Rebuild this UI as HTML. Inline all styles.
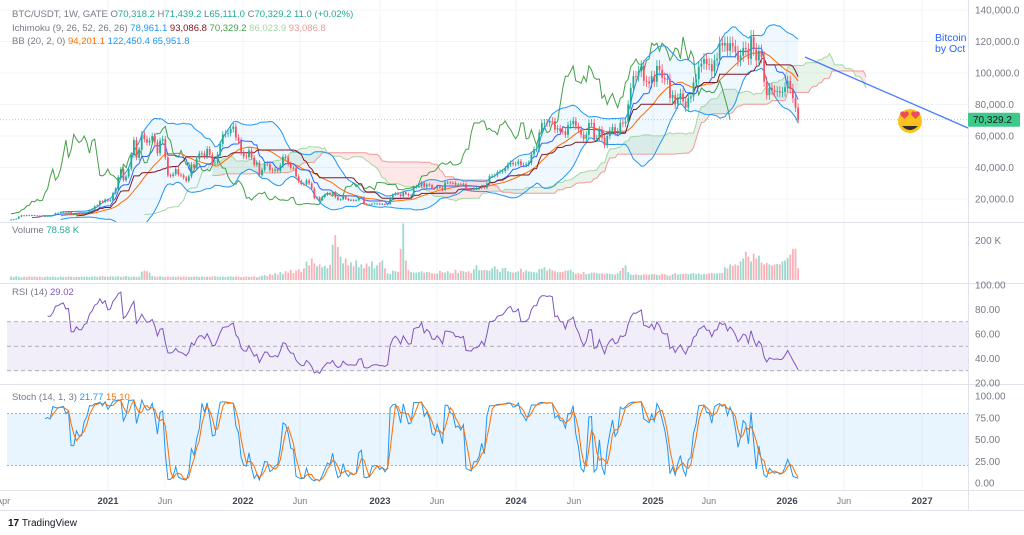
<!DOCTYPE html>
<html><head><meta charset="utf-8"><style>
html,body{margin:0;padding:0;background:#fff;}
svg{display:block;font-family:"Liberation Sans",sans-serif;}
</style></head><body>
<svg id="chart" width="1024" height="535" viewBox="0 0 1024 535" xmlns="http://www.w3.org/2000/svg">
<defs><clipPath id="cm"><rect x="0" y="0" width="968" height="222"/></clipPath>
<clipPath id="cv"><rect x="0" y="222" width="968" height="61"/></clipPath>
<clipPath id="cr"><rect x="0" y="283" width="968" height="101"/></clipPath>
<clipPath id="cs"><rect x="0" y="384" width="968" height="106"/></clipPath></defs>
<rect x="0" y="0" width="1024" height="535" fill="#fff"/>
<g id="grid"></g>
<g id="main" clip-path="url(#cm)"></g>
<g id="vol" clip-path="url(#cv)"></g>
<g id="rsi" clip-path="url(#cr)"></g>
<g id="stoch" clip-path="url(#cs)"></g>
<g id="axes"></g>
<g id="overlay"></g>
</svg>
<script>
const closes=[
6.9,7.1,7.5,8.8,9.6,9.3,9.7,9.4,9.7,9.5,9.4,9.3,9.1,9.1,9.2,9.2,9.7,11.0,11.2,11.6,11.9,11.6,11.7,10.3,10.3,10.9,10.7,10.7,11.3,11.5,13.0,13.7,15.5,16.0,18.6,18.2,19.7,18.8,19.2,23.8,26.5,
34.0,39.0,32.0,34.3,39.2,48.0,57.4,46.2,51.2,61.0,58.0,55.8,57.0,60.0,56.0,49.0,57.0,58.0,46.4,35.0,34.7,35.8,39.0,35.5,35.0,33.5,31.5,34.3,42.0,39.9,45.5,48.9,49.0,47.0,51.8,48.0,43.0,43.2,48.2,55.0,61.0,61.5,61.8,64.5,66.0,59.0,57.0,49.4,47.0,46.7,50.8,46.3,
41.8,43.1,35.1,38.5,42.4,42.2,38.4,38.0,38.8,37.8,41.3,46.8,46.4,42.2,39.7,39.5,34.3,31.3,29.5,29.4,31.8,29.9,26.6,20.5,21.0,19.3,21.2,22.6,23.8,23.3,24.4,21.1,19.5,19.8,21.8,20.1,19.3,19.4,19.1,19.2,20.8,21.0,16.8,16.3,16.5,17.0,17.1,17.1,16.8,16.8,16.5,
16.8,20.9,22.8,23.7,23.0,21.8,24.3,23.2,22.2,22.3,27.5,28.0,28.1,30.3,27.8,29.3,28.7,26.9,26.7,28.0,27.1,25.9,30.5,30.5,30.3,30.2,29.2,29.3,29.0,29.4,26.1,26.0,25.9,26.6,26.6,27.0,28.0,27.2,29.9,34.5,34.7,35.0,37.0,37.4,37.7,39.5,41.9,43.0,42.1,42.3,
43.9,41.7,41.6,42.0,43.0,48.3,51.6,51.7,62.0,68.2,68.4,68.2,69.6,69.4,64.0,64.9,63.1,63.0,60.8,66.9,67.5,69.6,66.2,64.2,60.9,58.2,60.8,68.2,68.3,58.1,58.7,64.0,59.0,54.1,60.0,63.5,65.6,62.1,63.0,68.4,68.0,69.0,80.0,90.6,98.0,97.9,101.0,104.5,95.0,94.5,93.4,
98.0,94.5,104.5,102.0,97.0,96.0,96.2,84.0,86.0,80.0,84.0,87.0,82.0,78.0,84.0,85.0,94.0,96.0,104.0,106.0,108.9,105.7,105.5,101.0,108.0,109.0,119.0,117.5,119.0,114.0,119.0,117.0,113.5,108.0,111.0,115.9,115.0,109.0,123.0,115.0,108.0,114.0,110.0,94.5,86.0,90.5,89.0,88.0,88.5,87.5,88.0,
91.0,95.0,90.0,84.0,78.0,70.3292];
const volumes=[
18,15,20,16,14,17,15,19,16,18,15,17,14,16,18,15,17,16,14,19,16,15,18,17,14,16,15,18,16,17,15,17,19,16,18,20,17,16,19,18,
17,19,16,18,20,17,15,18,16,17,42,48,45,38,20,18,16,19,17,15,18,16,17,15,19,16,18,17,15,16,17,19,16,18,15,17,16,18,19,17,
16,18,15,17,19,16,18,17,15,16,18,16,17,19,15,18,22,26,20,30,25,35,28,40,30,45,38,52,36,48,55,42,60,95,75,110,85,70,80,65,
72,60,78,180,230,170,120,85,110,75,90,70,100,65,80,60,85,70,95,60,75,90,100,60,35,30,48,45,42,160,290,100,50,40,38,38,40,45,38,42,
40,35,32,33,48,40,38,45,36,35,52,35,48,45,40,45,35,55,75,50,50,52,50,48,60,70,55,42,60,62,45,42,38,40,45,58,40,50,44,42,
40,38,56,58,65,48,58,50,45,40,40,42,48,48,52,40,32,36,30,42,30,32,38,38,36,32,35,30,34,32,30,28,34,46,62,75,40,28,27,30,
26,25,30,28,27,30,30,26,25,32,30,24,22,30,35,28,30,32,34,30,32,36,30,34,28,32,30,34,36,33,34,36,35,65,60,80,72,80,75,95,
110,145,120,95,135,110,125,90,80,88,80,75,80,82,80,95,100,112,130,160,160,60];
const priceTicks=[140,120,100,80,60,40,20];
const rsiTicks=[100,80,60,40,20];
const stochTicks=[100,75,50,25,0];
const timeLabels=["Apr","2021","Jun","2022","Jun","2023","Jun","2024","Jun","2025","Jun","2026","Jun","2027"];
const timeWeeks=[-3,37.1,58.9,88.7,110.5,141.1,162.9,193.1,215.3,245.5,266.9,296.8,318.5,348.4];

const NS="http://www.w3.org/2000/svg";
const X0=11, STEP=2.615;
const xOf=i=>X0+i*STEP;
const yP=v=>10+(140-v)*189/120;
const yV=v=>280-v*39/200;
const yR=v=>383-(v-20)*98/80;
const yS=v=>483-v*0.87;
function el(tag,attrs,parent){const e=document.createElementNS(NS,tag);for(const k in attrs)e.setAttribute(k,attrs[k]);parent.appendChild(e);return e;}
const G=id=>document.getElementById(id);
const N=closes.length;
const opens=closes.map((c,i)=>i?closes[i-1]:c*0.97);
const highs=closes.map((c,i)=>Math.max(c,opens[i])*1.035);
const lows=closes.map((c,i)=>Math.min(c,opens[i])*0.965);
function hh(i,n){let m=-1e9;for(let k=Math.max(0,i-n+1);k<=i;k++)m=Math.max(m,highs[k]);return m;}
function ll(i,n){let m=1e9;for(let k=Math.max(0,i-n+1);k<=i;k++)m=Math.min(m,lows[k]);return m;}
function pathOf(vals,xf,yf){let d="",pen=false;vals.forEach((v,i)=>{if(v==null||isNaN(v)){pen=false;return;}d+=(pen?"L":"M")+xf(i).toFixed(1)+","+yf(v).toFixed(1);pen=true;});return d;}

const grid=G("grid");
timeWeeks.forEach((w,k)=>{if(k===0)return;const l=el("line",{x1:xOf(w),x2:xOf(w),y1:0,y2:490,stroke:"#f2f4f8","stroke-width":1},grid);

});
priceTicks.forEach(t=>{const l=el("line",{x1:0,x2:968,y1:yP(t),y2:yP(t),stroke:"#f2f4f8"},grid);

});
[222.5,283.5,384.5,490.5].forEach(y=>{const l=el("line",{x1:0,x2:1024,y1:y,y2:y,stroke:"#e0e3eb"},grid);

});
const vs=el("line",{x1:968.5,x2:968.5,y1:0,y2:510,stroke:"#e0e3eb"},grid);


const bs=el("line",{x1:0,x2:1024,y1:510.5,y2:510.5,stroke:"#e0e3eb"},grid);



const M=N+26;
const conv=[],base=[],leadA=new Array(M).fill(null),leadB=new Array(M).fill(null),lag=new Array(N).fill(null);
for(let i=0;i<N;i++){conv[i]=i>=8?(hh(i,9)+ll(i,9))/2:null;base[i]=i>=25?(hh(i,26)+ll(i,26))/2:null;
 if(conv[i]!=null&&base[i]!=null)leadA[i+26]=(conv[i]+base[i])/2;
 if(i>=51)leadB[i+26]=(hh(i,52)+ll(i,52))/2;
 if(i>=26)lag[i-26]=closes[i];}
const bbM=[],bbU=[],bbL=[];
for(let i=0;i<N;i++){if(i<19){bbM.push(null);bbU.push(null);bbL.push(null);continue;}
 let s=0;for(let k=i-19;k<=i;k++)s+=closes[k];const m=s/20;let q=0;for(let k=i-19;k<=i;k++)q+=(closes[k]-m)**2;const sd=Math.sqrt(q/20);
 bbM.push(m);bbU.push(m+2*sd);bbL.push(m-2*sd);}
const rsi=new Array(N).fill(null);
{let ag=0,al=0;for(let i=1;i<N;i++){const d=closes[i]-closes[i-1],g=Math.max(d,0),l=Math.max(-d,0);
 if(i<=14){ag+=g/14;al+=l/14;if(i===14)rsi[i]=100-100/(1+ag/(al||1e-9));}
 else{ag=(ag*13+g)/14;al=(al*13+l)/14;rsi[i]=100-100/(1+ag/(al||1e-9));}}}
const stK=new Array(N).fill(null),stD=new Array(N).fill(null);
for(let i=13;i<N;i++){const h=hh(i,14),l=ll(i,14);stK[i]=(closes[i]-l)/(h-l)*100;}
for(let i=15;i<N;i++){stD[i]=(stK[i]+stK[i-1]+stK[i-2])/3;}

const main=G("main");
const bbFill=el("path",{d:pathOf(bbU,xOf,yP)+"L"+bbL.map((v,i)=>[i,v]).filter(a=>a[1]!=null).reverse().map(a=>xOf(a[0]).toFixed(1)+","+yP(a[1]).toFixed(1)).join("L")+"Z",fill:"rgba(33,150,243,0.07)",stroke:"none"},main);


for(let i=0;i<M-1;i++){if(leadA[i]==null||leadB[i]==null||leadA[i+1]==null||leadB[i+1]==null)continue;
 const p=el("polygon",{points:`${xOf(i)},${yP(leadA[i])} ${xOf(i+1)},${yP(leadA[i+1])} ${xOf(i+1)},${yP(leadB[i+1])} ${xOf(i)},${yP(leadB[i])}`,fill:leadA[i]>=leadB[i]?"rgba(67,160,71,0.12)":"rgba(244,67,54,0.12)"},main);
 
 }
const lines=[[leadA,"#a5d6a7","ichimoku-lead-a"],[leadB,"#ef9a9a","ichimoku-lead-b"],[lag,"#43a047","ichimoku-lagging-span"],[bbU,"#2196f3","bollinger-upper"],[bbL,"#2196f3","bollinger-lower"],[bbM,"#ff6d00","bollinger-basis"],[conv,"#2962ff","ichimoku-conversion"],[base,"#801922","ichimoku-base"]];
lines.forEach(([arr,col,name])=>{const p=el("path",{d:pathOf(arr,xOf,yP),fill:"none",stroke:col,"stroke-width":1},main);
 
 });
for(let i=0;i<N;i++){const up=closes[i]>=opens[i],col=up?"#22ab94":"#f7525f",x=xOf(i);
 const w=el("line",{x1:x,x2:x,y1:yP(highs[i]),y2:yP(lows[i]),stroke:col,"stroke-width":0.8},main);
 
 
 const t=yP(Math.max(opens[i],closes[i])),b=yP(Math.min(opens[i],closes[i]));
 const r=el("rect",{x:x-0.9,y:t,width:1.8,height:Math.max(b-t,0.8),fill:col},main);
 
 }
const pl=el("line",{x1:0,x2:968,y1:yP(closes[N-1]),y2:yP(closes[N-1]),stroke:"#22ab94","stroke-dasharray":"1 2","stroke-width":0.7,opacity:0.6},main);



const vol=G("vol");
volumes.forEach((v,i)=>{const up=closes[i]>=opens[i];
 const r=el("rect",{x:xOf(i)-0.9,y:yV(v),width:1.8,height:280-yV(v),fill:up?"rgba(34,171,148,0.45)":"rgba(247,82,95,0.45)"},vol);
 
 });

const rg=G("rsi");
const rb=el("rect",{x:7,y:yR(70),width:961,height:yR(30)-yR(70),fill:"rgba(126,87,194,0.1)"},rg);


[70,50,30].forEach(v=>{const l=el("line",{x1:7,x2:968,y1:yR(v),y2:yR(v),stroke:"#9598a1","stroke-dasharray":"4 3","stroke-width":0.8},rg);
 
 });
const rl=el("path",{d:pathOf(rsi,xOf,yR),fill:"none",stroke:"#7e57c2","stroke-width":1},rg);



const sg=G("stoch");
const sb=el("rect",{x:7,y:yS(80),width:961,height:yS(20)-yS(80),fill:"rgba(33,150,243,0.1)"},sg);


[80,20].forEach(v=>{const l=el("line",{x1:7,x2:968,y1:yS(v),y2:yS(v),stroke:"#9598a1","stroke-dasharray":"2 2","stroke-width":0.8},sg);
 
 });
const kl=el("path",{d:pathOf(stK,xOf,yS),fill:"none",stroke:"#2196f3","stroke-width":1},sg);


const dl=el("path",{d:pathOf(stD,xOf,yS),fill:"none",stroke:"#ff6d00","stroke-width":1},sg);



const ax=G("axes");
function txt(x,y,s,opt,name){const t=el("text",Object.assign({x:x,y:y,"font-size":10,fill:"#787b86"},opt||{}),ax);t.textContent=s;
 
 return t;}
priceTicks.forEach(v=>txt(975,yP(v)+3.5,(v*1000).toLocaleString("en-US")+".0",{},"price-tick-label"));
txt(975,244,"200 K",{},"volume-tick-label");
rsiTicks.forEach(v=>txt(975,yR(v)+3.5,v.toFixed(2),{},"rsi-tick-label"));
stochTicks.forEach(v=>txt(975,yS(v)+3.5,v.toFixed(2),{},"stoch-tick-label"));
timeLabels.forEach((s,k)=>{const yr=/^\d/.test(s);txt(xOf(timeWeeks[k]),504,s,{"text-anchor":"middle","font-size":yr?9.5:9,"font-weight":yr?"bold":"normal",fill:yr?"#434651":"#787b86"},"time-tick-label");});
const pb=el("rect",{x:968,y:yP(closes[N-1])-7,width:52,height:14,fill:"#3cc98a",rx:1},ax);


txt(973,yP(closes[N-1])+3.5,(closes[N-1]*1000).toLocaleString("en-US",{minimumFractionDigits:1,maximumFractionDigits:1}),{fill:"#131722"},"last-price-value");

function legend(y,parts,name){const t=el("text",{x:12,y:y,"font-size":9.5},ax);
 
 
 parts.forEach(([s,c])=>{const sp=el("tspan",{fill:c},t);sp.textContent=s;});}
legend(17,[["BTC/USDT, 1W, GATE  ","#787b86"],["O","#787b86"],["70,318.2  ","#22ab94"],["H","#787b86"],["71,439.2  ","#22ab94"],["L","#787b86"],["65,111.0  ","#22ab94"],["C","#787b86"],["70,329.2  11.0 (+0.02%)","#22ab94"]],"symbol-legend");
legend(31,[["Ichimoku (9, 26, 52, 26, 26)  ","#787b86"],["78,961.1  ","#2196f3"],["93,086.8  ","#801922"],["70,329.2  ","#43a047"],["86,023.9  ","#a5d6a7"],["93,086.8","#ef9a9a"]],"ichimoku-legend");
legend(44,[["BB (20, 2, 0)  ","#787b86"],["94,201.1  ","#ff6d00"],["122,450.4  ","#2196f3"],["65,951.8","#2196f3"]],"bollinger-legend");
legend(233,[["Volume  ","#787b86"],["78.58 K","#22ab94"]],"volume-legend");
legend(295,[["RSI (14)  ","#787b86"],["29.02","#7e57c2"]],"rsi-legend");
legend(400,[["Stoch (14, 1, 3)  ","#787b86"],["21.77  ","#2196f3"],["15.10","#ff6d00"]],"stoch-legend");

const ov=G("overlay");
const tl=el("line",{x1:805,y1:57,x2:968,y2:128,stroke:"#2962ff","stroke-width":1.3,opacity:0.85},ov);


const note=el("text",{x:935,y:41,"font-size":10.5,fill:"#2962ff"},ov);


note.setAttribute('clip-path','url(#cm)');
const n1=el("tspan",{x:935,dy:0},note);n1.textContent="Bitcoin will";
const n2=el("tspan",{x:935,dy:11},note);n2.textContent="by Oct 2026";
const emo=el("g",{},ov);


el("circle",{cx:910,cy:121,r:12,fill:"#fcc21b"},emo);
el("path",{d:"M902,126 Q910,134 918,126 Z",fill:"#2f2f2f"},emo);
el("path",{d:"M904.5,119 l-4,-4 a2.3,2.3 0 0 1 4,-2.5 a2.3,2.3 0 0 1 4,2.5 z",fill:"#ed4c5c"},emo);
el("path",{d:"M915.5,119 l-4,-4 a2.3,2.3 0 0 1 4,-2.5 a2.3,2.3 0 0 1 4,2.5 z",fill:"#ed4c5c"},emo);
const logo=el("text",{x:8,y:526,"font-size":10,fill:"#131722"},ov);


const lt1=el("tspan",{"font-weight":"bold"},logo);lt1.textContent="17 ";
const lt2=el("tspan",{},logo);lt2.textContent="TradingView";
</script>
</body></html>
